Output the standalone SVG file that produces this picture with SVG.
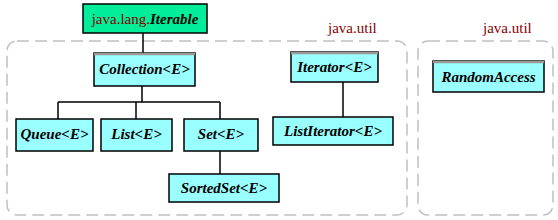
<svg xmlns="http://www.w3.org/2000/svg" width="558" height="220" viewBox="0 0 558 220">
<style>
.pkg{fill:none;stroke:#c0c0c0;stroke-width:1.5;stroke-dasharray:12 6}
.box{fill:#99ffff;stroke:#000;stroke-width:1.5}
.top{stroke:#999;stroke-width:2.5}
.lbl{font-family:"Liberation Serif",serif;font-size:15px;font-weight:bold;font-style:italic;fill:#000;text-anchor:middle}
.pk{font-family:"Liberation Serif",serif;font-size:15px;fill:#880000}
.conn{stroke:#000;stroke-width:1.5;fill:none}
</style>
<rect width="558" height="220" fill="#fff"/>
<g id="packages">
<rect class="pkg" x="7" y="41" width="400" height="174" rx="10"/>
<text class="pk" x="328" y="33">java.util</text>
<rect class="pkg" x="418" y="41" width="135" height="174" rx="10"/>
<text class="pk" x="483" y="33">java.util</text>
</g>
<g id="connectors">
<path class="conn" d="M143 33V53"/>
<path class="conn" d="M142 86V102M58 102H220M58 102V119M136 102V119M220 102V119"/>
<path class="conn" d="M220 151V174"/>
<path class="conn" d="M343 82V117"/>
</g>
<g id="iterable">
<rect x="83" y="4" width="124" height="29" fill="#00ee99" stroke="#000" stroke-width="1.5"/>
<text class="pk" x="145" y="24" text-anchor="middle" fill="#990000">java.lang.<tspan font-weight="bold" font-style="italic" fill="#000">Iterable</tspan></text>
</g>
<g id="collection">
<rect class="box" x="94" y="53" width="101" height="33"/>
<path class="top" d="M94 54H195"/>
<text class="lbl" x="144.5" y="74">Collection&lt;E&gt;</text>
</g>
<g id="iterator">
<rect class="box" x="291" y="52" width="87" height="30"/>
<path class="top" d="M291 53H378"/>
<text class="lbl" x="334.5" y="72">Iterator&lt;E&gt;</text>
</g>
<g id="randomaccess">
<rect class="box" x="433" y="61" width="111" height="31"/>
<path class="top" d="M433 62H544"/>
<text class="lbl" x="488.5" y="82">RandomAccess</text>
</g>
<g id="queue">
<rect class="box" x="16" y="119" width="77" height="32"/>
<text class="lbl" x="54.5" y="139">Queue&lt;E&gt;</text>
</g>
<g id="list">
<rect class="box" x="101" y="119" width="71" height="32"/>
<text class="lbl" x="136.5" y="139">List&lt;E&gt;</text>
</g>
<g id="set">
<rect class="box" x="184" y="119" width="74" height="32"/>
<text class="lbl" x="221" y="139">Set&lt;E&gt;</text>
</g>
<g id="sortedset">
<rect class="box" x="169" y="174" width="110" height="28"/>
<text class="lbl" x="224" y="193">SortedSet&lt;E&gt;</text>
</g>
<g id="listiterator">
<rect class="box" x="273" y="117" width="120" height="28"/>
<text class="lbl" x="333" y="136">ListIterator&lt;E&gt;</text>
</g>
</svg>
